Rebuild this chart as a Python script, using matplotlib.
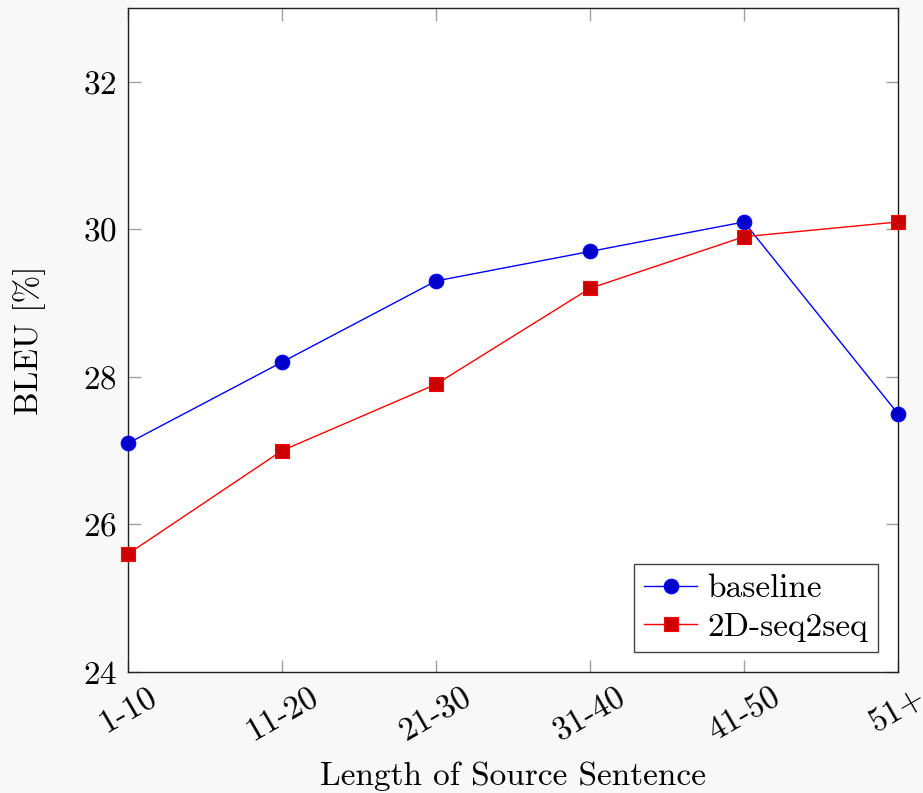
import matplotlib

matplotlib.use("Agg")

import matplotlib.pyplot as plt

# data
length_bins = ["1-10", "11-20", "21-30", "31-40", "41-50", "51+"]
baseline_bleu = [27.1, 28.2, 29.3, 29.7, 30.1, 27.5]
seq2seq_2d_bleu = [25.6, 27.0, 27.9, 29.2, 29.9, 30.1]
y_ticks = [24, 26, 28, 30, 32]

plt.rcParams["font.family"] = ["cmr10", "DejaVu Serif"]
plt.rcParams["mathtext.fontset"] = "cm"
plt.rcParams["axes.unicode_minus"] = False
plt.rcParams["axes.formatter.use_mathtext"] = True

FS = 24

fig = plt.figure(figsize=(9.23, 7.93), dpi=100, facecolor="#f8f8f8")
ax = fig.add_axes([128 / 923, 1 - 672 / 793, 770 / 923, 664 / 793])
ax.set_facecolor("white")

x = list(range(len(length_bins)))
ax.plot(x, baseline_bleu, color="blue", lw=1.0, marker="o", ms=10.5,
        mfc="#0000cc", mec="blue", mew=0.8, label="baseline", clip_on=False, zorder=3)
ax.plot(x, seq2seq_2d_bleu, color="red", lw=1.0, marker="s", ms=9.5,
        mfc="#cc0000", mec="red", mew=0.8, label="2D-seq2seq", clip_on=False, zorder=3)

ax.set_xlim(0, len(length_bins) - 1)
ax.set_ylim(24, 33)
ax.set_xticks(x)
ax.set_xticklabels(length_bins, rotation=30, ha="center", va="top")
ax.set_yticks(y_ticks)
ax.tick_params(direction="in", length=9, width=1.0, color="#a0a0a0",
               top=True, right=True, labelsize=FS, pad=8)
for s in ax.spines.values():
    s.set_linewidth(1.0)
    s.set_color("#222222")

ax.set_xlabel("Length of Source Sentence", fontsize=FS, labelpad=10)
ax.set_ylabel("BLEU [%]", fontsize=FS, labelpad=26)

leg = ax.legend(loc="lower right", fontsize=FS, fancybox=False, framealpha=1,
                edgecolor="#444444", borderaxespad=0.6, handlelength=1.6,
                labelspacing=0.28, handletextpad=0.3, borderpad=0.3)
leg.get_frame().set_linewidth(1.0)

fig.savefig("out.png", dpi=100, facecolor=fig.get_facecolor())
